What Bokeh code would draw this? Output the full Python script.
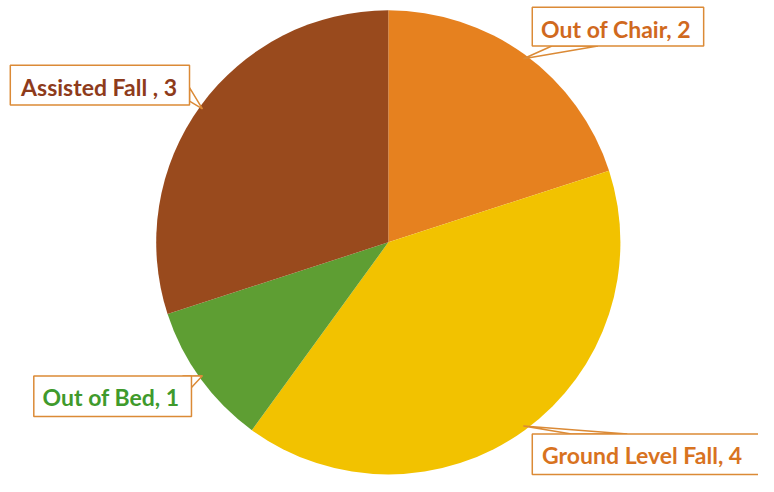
import math
from bokeh.plotting import figure
from bokeh.models import Range1d, ColumnDataSource
from bokeh.core.properties import value
from bokeh.embed import file_html
from bokeh.resources import INLINE

# ---- data ----
categories = ["Out of Chair", "Ground Level Fall", "Out of Bed", "Assisted Fall"]
counts = [2, 4, 1, 3]
label_texts = ["Out of Chair, 2", "Ground Level Fall, 4", "Out of Bed, 1", "Assisted Fall , 3"]
slice_colors = ["#E6811F", "#F2C200", "#5E9E33", "#994A1D"]
text_colors = ["#D0691E", "#D8731F", "#3F9A2C", "#8E3B1B"]

H = 492
W, HH = 758, 476
p = figure(width=W, height=HH, output_backend="svg", toolbar_location=None,
           x_range=Range1d(0, 774), y_range=Range1d(0, 492),
           min_border=0, background_fill_color="white", border_fill_color="white")
p.axis.visible = False
p.grid.visible = False
p.outline_line_color = None

cx, cy, R = 396, H - 250, 237
total = sum(counts)
starts, ends, mids = [], [], []
acc = 0
for c in counts:
    s = math.pi / 2 - 2 * math.pi * acc / total
    acc += c
    e = math.pi / 2 - 2 * math.pi * acc / total
    starts.append(s); ends.append(e); mids.append((s + e) / 2)

src = ColumnDataSource(dict(start=starts, end=ends, color=slice_colors))
p.wedge(x=cx, y=cy, radius=R, start_angle="start", end_angle="end",
        direction="clock", fill_color="color", line_color=None, source=src)

# label boxes (reference layout: left, right, top, bottom), pointer base points, text pos
boxes = [
    (543, 718, 7, 47),      # Out of Chair
    (543, 790, 448, 490),   # Ground Level Fall
    (34, 195, 388, 430),    # Out of Bed
    (10, 193, 67, 108),     # Assisted Fall
]
bases = [
    [(610, 47), (563, 47)],
    [(583, 448), (640, 448)],
    [(195, 400), (186, 388)],
    [(193, 90), (193, 104)],
]
text_pos = [(552, 29), (553, 470), (43, 410), (21, 89)]
border = "#DB8A36"

for i in range(len(counts)):
    tx = cx + R * 0.99 * math.cos(mids[i])
    ty = cy + R * 0.99 * math.sin(mids[i])
    (b1x, b1y), (b2x, b2y) = bases[i]
    p.patch([b1x, tx, b2x], [H - b1y, ty, H - b2y], fill_color="white",
            line_color=border, line_width=1.5)
    l, r, t, b = boxes[i]
    p.quad(left=l, right=r, top=H - t, bottom=H - b, fill_color="white",
           line_color=border, line_width=1.5)
    x0, y0 = text_pos[i]
    p.text(x=[x0], y=[H - y0], text=[label_texts[i]], text_color=text_colors[i],
           text_font=value("Lato"), text_font_style="bold", text_font_size="23px",
           text_align="left", text_baseline="middle")

open("out.html", "w").write(file_html(p, INLINE))
